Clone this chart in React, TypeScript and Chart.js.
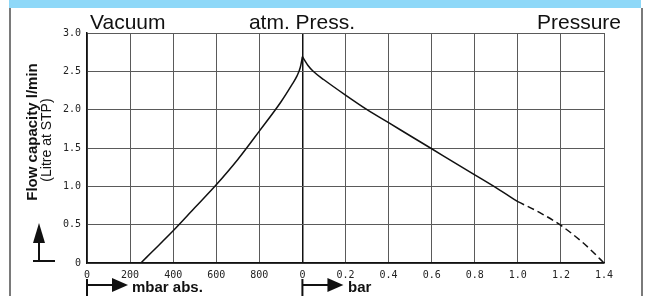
import React, { useEffect, useRef } from "react";
import { Chart, registerables } from "chart.js";

Chart.register(...registerables);

// Vacuum side (mbar abs.)
const vacuumMbar = [250, 300, 400, 500, 600, 700, 800, 900, 950, 975, 990, 1000];
const vacuumFlow = [0, 0.14, 0.42, 0.72, 1.02, 1.35, 1.72, 2.1, 2.32, 2.44, 2.55, 2.69];

// Pressure side (bar), measured
const pressureBar = [0, 0.025, 0.05, 0.1, 0.2, 0.3, 0.4, 0.5, 0.6, 0.7, 0.8, 0.9, 1.0];
const pressureFlow = [2.69, 2.58, 2.5, 2.39, 2.19, 2.0, 1.83, 1.66, 1.49, 1.32, 1.15, 0.98, 0.8];

// Pressure side (bar), extrapolated (dashed)
const extrapBar = [1.0, 1.1, 1.2, 1.3, 1.35, 1.4];
const extrapFlow = [0.8, 0.66, 0.49, 0.27, 0.14, 0];

const xTickLabels = ["0", "200", "400", "600", "800", "0", "0.2", "0.4", "0.6", "0.8", "1.0", "1.2", "1.4"];
const yTickLabels = ["0", "0.5", "1.0", "1.5", "2.0", "2.5", "3.0"];

const topLabels = ["Vacuum", "atm. Press.", "Pressure"];
const yTitle = "Flow capacity l/min";
const ySubTitle = "(Litre at STP)";
const unitVacuum = "mbar abs.";
const unitPressure = "bar";

const W = 646;
const H = 296;

const decorPlugin = {
  id: "decor",
  beforeDraw(chart: any) {
    const ctx = chart.ctx;
    ctx.save();
    ctx.fillStyle = "#ffffff";
    ctx.fillRect(0, 0, W, H);
    ctx.restore();
  },
  afterDraw(chart: any) {
    const ctx = chart.ctx;
    const xs = chart.scales.x;
    ctx.save();
    // blue band
    ctx.fillStyle = "#8ED8F8";
    ctx.fillRect(9, 0, 632, 8);
    // frame lines
    ctx.fillStyle = "#7a7a7a";
    ctx.fillRect(9, 8, 2, H - 8);
    ctx.fillRect(641, 8, 2, H - 8);

    ctx.fillStyle = "#111";
    // Y arrow
    ctx.fillRect(38, 241, 2, 20);
    ctx.fillRect(33, 260, 22, 2);
    ctx.beginPath();
    ctx.moveTo(39, 223);
    ctx.lineTo(33, 243);
    ctx.lineTo(45, 243);
    ctx.closePath();
    ctx.fill();

    // bottom arrows
    const drawArrow = (x0: number) => {
      ctx.fillRect(x0 - 1, 279, 2, 17);
      ctx.fillRect(x0, 284, 28, 2);
      ctx.beginPath();
      ctx.moveTo(x0 + 25, 278);
      ctx.lineTo(x0 + 41, 285);
      ctx.lineTo(x0 + 25, 292);
      ctx.closePath();
      ctx.fill();
    };
    drawArrow(xs.getPixelForValue(0));
    drawArrow(xs.getPixelForValue(1));
    ctx.restore();
  },
};

export default function App() {
  const ref = useRef<HTMLCanvasElement | null>(null);

  useEffect(() => {
    if (!ref.current) return;
    const toPts = (xs: number[], ys: number[], f: (v: number) => number) =>
      xs.map((v, i) => ({ x: f(v), y: ys[i] }));

    const chart = new Chart(ref.current, {
      type: "line",
      data: {
        datasets: [
          {
            data: toPts(vacuumMbar, vacuumFlow, (v) => v / 1000),
            borderColor: "#111",
            borderWidth: 1.5,
            pointRadius: 0,
            cubicInterpolationMode: "monotone",
          },
          {
            data: toPts(pressureBar, pressureFlow, (v) => 1 + v),
            borderColor: "#111",
            borderWidth: 1.5,
            pointRadius: 0,
            cubicInterpolationMode: "monotone",
          },
          {
            data: toPts(extrapBar, extrapFlow, (v) => 1 + v),
            borderColor: "#111",
            borderWidth: 1.5,
            borderDash: [7, 4],
            pointRadius: 0,
            cubicInterpolationMode: "monotone",
          },
        ],
      },
      options: {
        animation: false,
        responsive: false,
        maintainAspectRatio: false,
        layout: { padding: { left: 0, right: 42, top: 33, bottom: 0 } },
        plugins: { legend: { display: false }, tooltip: { enabled: false } },
        scales: {
          x: {
            type: "linear",
            min: 0,
            max: 2.4,
            afterFit: (s: any) => {
              s.height = 33;
            },
            afterBuildTicks: (s: any) => {
              s.ticks = xTickLabels.map((_, i) => ({ value: Math.round(i * 2) / 10 }));
            },
            ticks: {
              padding: 6,
              maxRotation: 0,
              autoSkip: false,
              color: "#222",
              font: { family: "DejaVu Sans Mono", size: 10 },
              callback: (_v: any, i: number) => xTickLabels[i],
            },
            grid: {
              drawTicks: false,
              color: (c: any) => (c.tick && Math.abs(c.tick.value - 1) < 1e-6 ? "#111" : "#5a5a5a"),
              lineWidth: (c: any) => (c.tick && Math.abs(c.tick.value - 1) < 1e-6 ? 1.5 : 1),
            },
            border: { color: "#111", width: 1.5 },
          },
          y: {
            type: "linear",
            min: 0,
            max: 3,
            afterFit: (s: any) => {
              s.width = 87;
            },
            afterBuildTicks: (s: any) => {
              s.ticks = yTickLabels.map((_, i) => ({ value: i * 0.5 }));
            },
            ticks: {
              padding: 6,
              autoSkip: false,
              color: "#222",
              font: { family: "DejaVu Sans Mono", size: 10 },
              callback: (_v: any, i: number) => yTickLabels[i],
            },
            grid: { drawTicks: false, color: "#5a5a5a", lineWidth: 1 },
            border: { color: "#111", width: 1.5 },
          },
        },
      },
      plugins: [decorPlugin],
    });
    return () => chart.destroy();
  }, []);

  const sans = "'Liberation Sans', Arial, Helvetica, sans-serif";
  const topStyle: React.CSSProperties = {
    position: "absolute",
    top: 10,
    fontFamily: sans,
    fontSize: 21,
    lineHeight: "23px",
    color: "#111",
    whiteSpace: "nowrap",
  };

  return (
    <div style={{ position: "fixed", left: 0, top: 0, width: W, height: H, background: "#fff", overflow: "hidden" }}>
      <canvas ref={ref} width={W} height={H} style={{ position: "absolute", left: 0, top: 0, width: W, height: H }} />
      <div style={{ ...topStyle, left: 90 }}>{topLabels[0]}</div>
      <div style={{ ...topStyle, left: 302, transform: "translateX(-50%)" }}>{topLabels[1]}</div>
      <div style={{ ...topStyle, right: W - 621 }}>{topLabels[2]}</div>
      <div
        style={{
          position: "absolute",
          left: 31,
          top: 132,
          transform: "translate(-50%, -50%) rotate(-90deg)",
          fontFamily: sans,
          fontSize: 15,
          fontWeight: "bold",
          color: "#111",
          whiteSpace: "nowrap",
          lineHeight: "17px",
        }}
      >
        {yTitle}
      </div>
      <div
        style={{
          position: "absolute",
          left: 46,
          top: 140,
          transform: "translate(-50%, -50%) rotate(-90deg)",
          fontFamily: sans,
          fontSize: 14,
          color: "#111",
          whiteSpace: "nowrap",
          lineHeight: "16px",
        }}
      >
        {ySubTitle}
      </div>
      <div
        style={{
          position: "absolute",
          left: 132,
          top: 278,
          fontFamily: sans,
          fontSize: 15,
          fontWeight: "bold",
          color: "#111",
          whiteSpace: "nowrap",
          lineHeight: "17px",
        }}
      >
        {unitVacuum}
      </div>
      <div
        style={{
          position: "absolute",
          left: 348,
          top: 278,
          fontFamily: sans,
          fontSize: 15,
          fontWeight: "bold",
          color: "#111",
          whiteSpace: "nowrap",
          lineHeight: "17px",
        }}
      >
        {unitPressure}
      </div>
    </div>
  );
}
